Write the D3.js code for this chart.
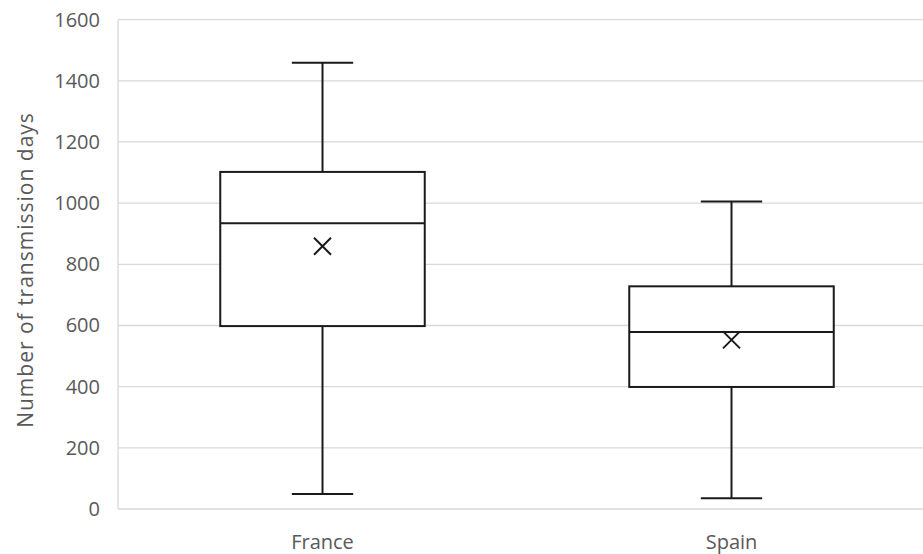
<!DOCTYPE html>
<html><head><meta charset="utf-8">
<script src="https://cdn.jsdelivr.net/npm/d3@7"></script>
<style>body{margin:0;background:#fff}svg{display:block}</style>
</head><body>
<svg id="c" width="923" height="554"></svg>
<script>
const categories = ["France", "Spain"];
const whiskerLow = [49, 35];
const q1 = [598, 399];
const median = [934, 579];
const q3 = [1102, 728];
const whiskerHigh = [1459, 1005];
const mean = [859, 553];
const yTicks = [0, 200, 400, 600, 800, 1000, 1200, 1400, 1600];
const yLabel = "Number of transmission days";

const svg = d3.select("#c");
const font = "Open Sans, Liberation Sans, sans-serif";
const mLeft = 118, mRight = 936, mTop = 19.6, mBottom = 509;
const x = d3.scaleBand().domain(categories).range([mLeft, mRight]).paddingInner(0).paddingOuter(0);
const y = d3.scaleLinear().domain([0, 1600]).range([mBottom, mTop]);

svg.append("g").selectAll("line").data(yTicks).join("line")
  .attr("x1", mLeft).attr("x2", mRight)
  .attr("y1", d => y(d)).attr("y2", d => y(d))
  .attr("stroke", "#d9d9d9").attr("stroke-width", 1.3);
svg.append("line").attr("x1", mLeft).attr("x2", mLeft).attr("y1", y(1600)).attr("y2", y(0))
  .attr("stroke", "#d9d9d9").attr("stroke-width", 1.3);

const yAxis = svg.append("g").attr("transform", `translate(${mLeft},0)`)
  .call(d3.axisLeft(y).tickValues(yTicks).tickSize(0).tickPadding(18).tickFormat(d3.format("d")));
yAxis.select(".domain").remove();
yAxis.selectAll("text").attr("fill", "#595959").style("font-family", font).style("font-size", "20px");

const xAxis = svg.append("g").attr("transform", `translate(0,${mBottom})`)
  .call(d3.axisBottom(x).tickSize(0).tickPadding(26));
xAxis.select(".domain").remove();
xAxis.selectAll("text").attr("fill", "#595959").style("font-family", font).style("font-size", "20px");

svg.append("text").attr("transform", `translate(33,270) rotate(-90)`)
  .attr("text-anchor", "middle").attr("fill", "#595959")
  .style("font-family", font).style("font-size", "21px").style("letter-spacing", "1px").text(yLabel);

const bw = x.bandwidth() * 0.5;
const capW = x.bandwidth() * 0.075;
const g = svg.append("g").attr("stroke", "#1a1a1a").attr("stroke-width", 2).attr("fill", "none");
categories.forEach((c, i) => {
  const cx = x(c) + x.bandwidth() / 2;
  g.append("line").attr("x1", cx).attr("x2", cx).attr("y1", y(q3[i])).attr("y2", y(whiskerHigh[i]));
  g.append("line").attr("x1", cx).attr("x2", cx).attr("y1", y(q1[i])).attr("y2", y(whiskerLow[i]));
  g.append("line").attr("x1", cx - capW).attr("x2", cx + capW).attr("y1", y(whiskerHigh[i])).attr("y2", y(whiskerHigh[i]));
  g.append("line").attr("x1", cx - capW).attr("x2", cx + capW).attr("y1", y(whiskerLow[i])).attr("y2", y(whiskerLow[i]));
  g.append("rect").attr("x", cx - bw / 2).attr("width", bw)
    .attr("y", y(q3[i])).attr("height", y(q1[i]) - y(q3[i])).attr("fill", "#fff");
  g.append("line").attr("x1", cx - bw / 2).attr("x2", cx + bw / 2).attr("y1", y(median[i])).attr("y2", y(median[i]));
  const m = 8.5, my = y(mean[i]);
  g.append("path").attr("d", `M${cx - m},${my - m}L${cx + m},${my + m}M${cx - m},${my + m}L${cx + m},${my - m}`);
});
</script>
</body></html>
